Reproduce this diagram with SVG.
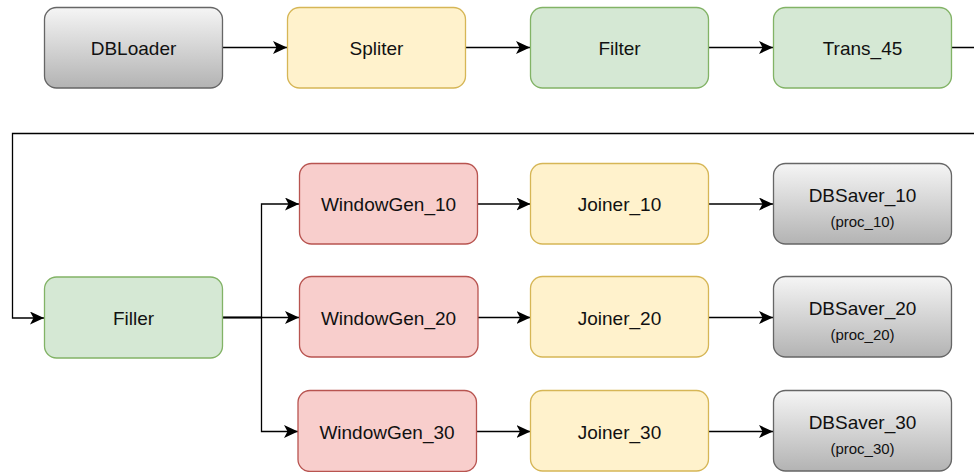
<svg xmlns="http://www.w3.org/2000/svg" width="974" height="472" viewBox="0 0 974 472">
  <defs>
    <linearGradient id="grayFill" x1="0" y1="0" x2="0" y2="1">
      <stop offset="0" stop-color="#f5f5f5"/>
      <stop offset="1" stop-color="#b3b3b3"/>
    </linearGradient>
    <marker id="arrow" viewBox="0 0 14 13" refX="14" refY="6.5" markerWidth="14" markerHeight="13" markerUnits="userSpaceOnUse" orient="auto">
      <path d="M0,0 L14,6.5 L0,13 L3.5,6.5 Z" fill="#000"/>
    </marker>
  </defs>
  <style>
    .box { stroke-width: 1.3; }
    .gray { fill: url(#grayFill); stroke: #666666; }
    .yellow { fill: #fff2cc; stroke: #d6b656; }
    .green { fill: #d5e8d4; stroke: #82b366; }
    .red { fill: #f8cecc; stroke: #b85450; }
    text { font-family: "Liberation Sans", Arial, Helvetica, sans-serif; font-size: 19px; fill: #111; text-anchor: middle; }
    text.sub { font-size: 15px; }
    .edge { fill: none; stroke: #000; stroke-width: 1.3; marker-end: url(#arrow); }
  </style>

  <!-- pipeline connectors -->
  <g id="connectors">
    <path class="edge" d="M222.5,47.5 H287"/>
    <path class="edge" d="M465.5,47.5 H530"/>
    <path class="edge" d="M708.5,47.5 H773"/>
    <path class="edge" d="M952,47.5 H990 V133.5 H12.5 V318 H44"/>
    <path class="edge" d="M222.5,317.5 H261.5 V204 H299"/>
    <path class="edge" d="M222.5,317.5 H299"/>
    <path class="edge" d="M222.5,317.5 H261.5 V431.5 H298"/>
    <path class="edge" d="M477.5,204 H530.5"/>
    <path class="edge" d="M478,317.5 H530.5"/>
    <path class="edge" d="M476.5,431.5 H530.5"/>
    <path class="edge" d="M708.5,204 H773"/>
    <path class="edge" d="M708.5,317.5 H773"/>
    <path class="edge" d="M708.5,431.5 H773"/>
  </g>

  <!-- top row -->
  <g id="dbloader">
    <rect class="box gray" x="44.5" y="7.5" width="178" height="80.5" rx="12"/>
    <text x="133.5" y="54.5">DBLoader</text>
  </g>
  <g id="spliter">
    <rect class="box yellow" x="287.5" y="7.5" width="178" height="80.5" rx="12"/>
    <text x="376.5" y="54.5">Spliter</text>
  </g>
  <g id="filter">
    <rect class="box green" x="530.5" y="7.5" width="178" height="80.5" rx="12"/>
    <text x="619.5" y="54.5">Filter</text>
  </g>
  <g id="trans_45">
    <rect class="box green" x="773.5" y="7.5" width="178" height="80.5" rx="12"/>
    <text x="862.5" y="54.5">Trans_45</text>
  </g>

  <!-- filler -->
  <g id="filler">
    <rect class="box green" x="44.5" y="277" width="178" height="81" rx="12"/>
    <text x="133.5" y="324.5">Filler</text>
  </g>

  <!-- window generators -->
  <g id="windowgen_10">
    <rect class="box red" x="299.5" y="163.5" width="178" height="80.5" rx="12"/>
    <text x="388.5" y="211">WindowGen_10</text>
  </g>
  <g id="windowgen_20">
    <rect class="box red" x="299.5" y="276.5" width="178.5" height="80.5" rx="12"/>
    <text x="388.5" y="324.5">WindowGen_20</text>
  </g>
  <g id="windowgen_30">
    <rect class="box red" x="298" y="390.5" width="178.5" height="81" rx="12"/>
    <text x="387" y="438.5">WindowGen_30</text>
  </g>

  <!-- joiners -->
  <g id="joiner_10">
    <rect class="box yellow" x="530.5" y="163.5" width="178" height="80.5" rx="12"/>
    <text x="619.5" y="211">Joiner_10</text>
  </g>
  <g id="joiner_20">
    <rect class="box yellow" x="530.5" y="276.5" width="178" height="80.5" rx="12"/>
    <text x="619.5" y="324.5">Joiner_20</text>
  </g>
  <g id="joiner_30">
    <rect class="box yellow" x="530.5" y="390.5" width="178" height="80.5" rx="12"/>
    <text x="619.5" y="438.5">Joiner_30</text>
  </g>

  <!-- savers -->
  <g id="dbsaver_10">
    <rect class="box gray" x="773.5" y="163.5" width="178" height="80.5" rx="12"/>
    <text x="862.5" y="202">DBSaver_10</text>
    <text class="sub" x="862.5" y="226.5">(proc_10)</text>
  </g>
  <g id="dbsaver_20">
    <rect class="box gray" x="773.5" y="276.5" width="178" height="80.5" rx="12"/>
    <text x="862.5" y="315">DBSaver_20</text>
    <text class="sub" x="862.5" y="339.5">(proc_20)</text>
  </g>
  <g id="dbsaver_30">
    <rect class="box gray" x="773.5" y="390.5" width="178" height="80.5" rx="12"/>
    <text x="862.5" y="429">DBSaver_30</text>
    <text class="sub" x="862.5" y="453.5">(proc_30)</text>
  </g>
</svg>
